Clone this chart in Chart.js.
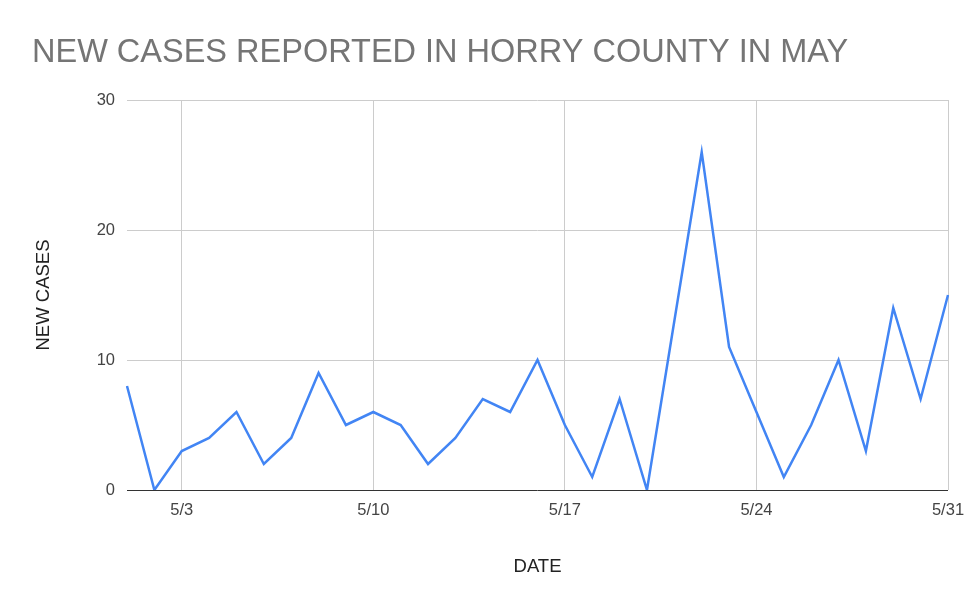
<!DOCTYPE html>
<html>
<head>
<meta charset="utf-8">
<script src="https://cdn.jsdelivr.net/npm/chart.js@4/dist/chart.umd.min.js"></script>
<style>
html,body{margin:0;padding:0;background:#fff;}
#wrap{width:980px;height:605px;position:relative;}
</style>
</head>
<body>
<div id="wrap"><canvas id="c" width="980" height="605"></canvas></div>
<script>
const dates = ["5/1","5/2","5/3","5/4","5/5","5/6","5/7","5/8","5/9","5/10","5/11","5/12","5/13","5/14","5/15","5/16","5/17","5/18","5/19","5/20","5/21","5/22","5/23","5/24","5/25","5/26","5/27","5/28","5/29","5/30","5/31"];
const newCases = [8,0,3,4,6,2,4,9,5,6,5,2,4,7,6,10,5,1,7,0,13,26,11,6,1,5,10,3,14,7,15];
const shownDateLabels = ["5/3","5/10","5/17","5/24","5/31"];
const yTicks = [0,10,20,30];

const FONT = "'Liberation Sans', Arial, sans-serif";

new Chart(document.getElementById('c'), {
  type: 'line',
  data: {
    labels: dates,
    datasets: [{
      label: 'NEW CASES',
      data: newCases,
      borderColor: '#4285F4',
      borderWidth: 2.5,
      pointRadius: 0,
      tension: 0,
      fill: false
    }]
  },
  options: {
    responsive: false,
    animation: false,
    layout: { padding: { left: 32, right: 32, top: 0, bottom: 23 } },
    plugins: {
      legend: { display: false },
      tooltip: { enabled: false },
      title: {
        display: true,
        text: 'NEW CASES REPORTED IN HORRY COUNTY IN MAY',
        align: 'start',
        color: '#757575',
        font: { family: FONT, size: 32.5, weight: 'normal' },
        padding: { top: 33.5, bottom: 27.5 }
      }
    },
    scales: {
      x: {
        type: 'category',
        offset: false,
        border: { display: false },
        grid: {
          drawTicks: false,
          color: (ctx) => shownDateLabels.includes(dates[ctx.index]) ? '#cccccc' : 'rgba(0,0,0,0)',
          lineWidth: 1
        },
        ticks: {
          autoSkip: false,
          maxRotation: 0,
          padding: 11,
          color: '#444444',
          font: { family: FONT, size: 16.5 },
          callback: function(value, index) {
            const l = dates[index];
            return shownDateLabels.includes(l) ? l : '';
          }
        },
        title: {
          display: true,
          text: 'DATE',
          color: '#222222',
          font: { family: FONT, size: 18.5 },
          padding: { top: 24, bottom: 4 }
        }
      },
      y: {
        min: 0,
        max: 30,
        border: { display: false },
        afterBuildTicks: (scale) => { scale.ticks = yTicks.map(v => ({ value: v })); },
        afterFit: (scale) => { scale.width = 95; },
        grid: {
          drawTicks: false,
          color: (ctx) => ctx.tick && ctx.tick.value === 0 ? '#333333' : '#cccccc',
          lineWidth: 1
        },
        ticks: {
          padding: 12,
          color: '#444444',
          font: { family: FONT, size: 16.5 }
        },
        title: {
          display: true,
          text: 'NEW CASES',
          color: '#222222',
          font: { family: FONT, size: 18.5 },
          padding: { top: 1, bottom: 4 }
        }
      }
    }
  }
});
</script>
</body>
</html>
